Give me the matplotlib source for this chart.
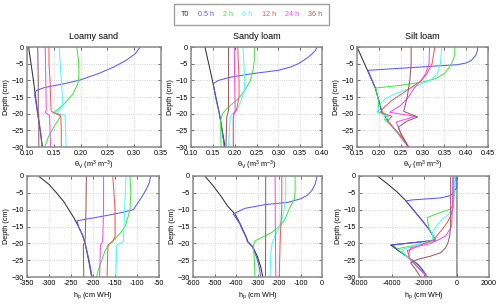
import matplotlib
matplotlib.use('Agg')
import matplotlib.pyplot as plt
import numpy as np
from matplotlib.lines import Line2D

plt.rcParams['font.family'] = ['Liberation Sans', 'DejaVu Sans']
plt.rcParams['mathtext.fontset'] = 'custom'
plt.rcParams['mathtext.rm'] = 'Liberation Sans'
plt.rcParams['mathtext.it'] = 'Liberation Sans'

times = ['T0', '0.5 h', '2 h', '6 h', '12 h', '24 h', '36 h']
# T0, 0.5h, 2h, 6h, 12h, 24h, 36h
color = ['#333333', '#5a5aff', '#3cee3c', '#44ffff', '#ff5555', '#ff44ff', '#a05a5a']

# ---- water content (theta) profiles: (depth, value) per time ----
ls_theta = {
    'T0':    ([0, -10, -20, -30], [0.103, 0.112, 0.120, 0.129]),
    '0.5 h': ([0, -2, -4, -6, -8, -10, -11, -11.6, -12.2, -13, -14, -20, -25, -30],
              [0.311, 0.302, 0.285, 0.262, 0.233, 0.197, 0.170, 0.150, 0.132, 0.118, 0.114, 0.120, 0.125, 0.128]),
    '2 h':   ([0, -4, -8, -11, -14, -17, -19, -19.6, -20.5, -21, -24, -27, -30],
              [0.193, 0.196, 0.197, 0.195, 0.186, 0.170, 0.155, 0.149, 0.160, 0.162, 0.150, 0.140, 0.133]),
    '6 h':   ([0, -5, -10, -15, -18, -19, -19.6, -20.5, -25, -30],
              [0.160, 0.162, 0.164, 0.166, 0.166, 0.160, 0.150, 0.171, 0.172, 0.173]),
    '12 h':  ([0, -5, -10, -15, -19, -19.6, -20.5, -25, -30],
              [0.141, 0.141, 0.143, 0.144, 0.145, 0.148, 0.163, 0.164, 0.164]),
    '24 h':  ([0, -10, -19, -19.6, -20.5, -25, -30],
              [0.134, 0.135, 0.136, 0.134, 0.142, 0.143, 0.144]),
    '36 h':  ([0, -10, -19.6, -20.5, -30], [0.120, 0.121, 0.121, 0.122, 0.122]),
}

sl_theta = {
    'T0':    ([0, -10, -20, -30], [0.132, 0.149, 0.165, 0.178]),
    '0.5 h': ([0, -1, -2, -3, -4, -5, -6, -7, -8, -9, -10, -11, -15, -20, -25, -30],
              [0.389, 0.385, 0.378, 0.369, 0.358, 0.346, 0.328, 0.300, 0.240, 0.193, 0.163, 0.151, 0.156, 0.165, 0.171, 0.176]),
    '2 h':   ([0, -4, -7, -10, -12, -14, -16, -18, -20, -22, -26, -30],
              [0.245, 0.245, 0.242, 0.236, 0.228, 0.218, 0.204, 0.186, 0.172, 0.168, 0.168, 0.169]),
    '6 h':   ([0, -5, -10, -13, -16, -19, -20, -21, -25, -30],
              [0.219, 0.221, 0.223, 0.222, 0.215, 0.205, 0.195, 0.190, 0.188, 0.186]),
    '12 h':  ([0, -10, -15, -19, -20, -21, -30], [0.207, 0.210, 0.210, 0.204, 0.198, 0.197, 0.197]),
    '24 h':  ([0, -10, -19, -20, -21, -30], [0.199, 0.200, 0.201, 0.199, 0.197, 0.197]),
    '36 h':  ([0, -10, -19, -20, -21, -30], [0.186, 0.186, 0.186, 0.184, 0.182, 0.180]),
}

si_theta = {
    'T0':    ([0, -7, -12.3, -19.5, -20.5, -22.5, -26, -30],
              [0.150, 0.174, 0.192, 0.207, 0.213, 0.222, 0.245, 0.268]),
    '0.5 h': ([0, -1, -2.5, -4, -4.8, -5.3, -7, -12.3, -19.5, -20.5, -22.5, -26, -30],
              [0.426, 0.426, 0.422, 0.412, 0.400, 0.380, 0.175, 0.192, 0.207, 0.214, 0.222, 0.245, 0.268]),
    '2 h':   ([0, -2, -4, -6, -8, -9.5, -10.5, -11.5, -12.3, -16, -19.5, -20.8, -21.8, -22.5, -26, -30],
              [0.374, 0.374, 0.370, 0.362, 0.350, 0.330, 0.300, 0.250, 0.193, 0.199, 0.199, 0.222, 0.212, 0.222, 0.245, 0.268]),
    '6 h':   ([0, -5, -8, -10, -12, -14, -15.5, -17, -19.5, -20.8, -22, -26, -30],
              [0.344, 0.341, 0.334, 0.318, 0.280, 0.238, 0.215, 0.204, 0.196, 0.218, 0.215, 0.245, 0.268]),
    '12 h':  ([0, -5, -8, -10, -12, -14, -16, -18, -19.5, -20.8, -22.2, -26, -30],
              [0.328, 0.322, 0.310, 0.298, 0.276, 0.253, 0.230, 0.213, 0.204, 0.230, 0.220, 0.245, 0.268]),
    '24 h':  ([0, -5, -8, -10, -12.5, -15, -17.5, -19, -19.6, -20.8, -22.5, -25, -30],
              [0.316, 0.315, 0.307, 0.297, 0.280, 0.268, 0.250, 0.232, 0.225, 0.284, 0.240, 0.247, 0.268]),
    '36 h':  ([0, -5, -10, -15, -19.3, -21, -22.2, -24, -26, -30],
              [0.274, 0.274, 0.271, 0.265, 0.257, 0.289, 0.265, 0.245, 0.250, 0.268]),
}

# ---- pressure head profiles ----
ls_h = {
    'T0':    ([0, -2.5, -5, -7.5, -10, -12.5, -15, -17.5, -20, -25, -30],
              [-324, -300, -283, -267, -255, -243, -233, -224, -218, -210, -203]),
    '0.5 h': ([0, -2, -4, -6, -8, -10, -11, -12, -12.8, -13.3, -15, -17.5, -20, -25, -30],
              [-69, -72, -79, -88, -98, -108, -140, -180, -215, -236, -233, -224, -218, -209, -202]),
    '2 h':   ([0, -5, -10, -12, -15, -17, -19, -20, -22, -25, -28, -30],
              [-116, -114, -116, -120, -127, -138, -153, -161, -172, -180, -188, -192]),
    '6 h':   ([0, -10, -19.5, -20.5, -30], [-125, -128, -131, -146, -148]),
    '12 h':  ([0, -10, -18, -19.5, -20.5, -30], [-155, -150, -150, -155, -166, -168]),
    '24 h':  ([0, -10, -19.5, -20.5, -30], [-176, -176, -178, -183, -185]),
    '36 h':  ([0, -10, -19.5, -20.5, -30], [-215, -216, -218, -222, -221]),
}

sl_h = {
    'T0':    ([0, -3, -6, -9, -11.3, -14, -16, -18.3, -19.5, -21, -24, -27, -30],
              [-545, -505, -470, -438, -405, -382, -368, -351, -345, -322, -300, -285, -275]),
    '0.5 h': ([0, -2.3, -4.3, -5.8, -6.8, -7.8, -8.5, -9.6, -11.3, -14, -16, -18.3, -19.5, -21, -24, -27, -30],
              [-23, -31, -47, -70, -101, -156, -265, -358, -413, -384, -370, -353, -347, -325, -305, -292, -285]),
    '2 h':   ([0, -4.3, -6.8, -8.3, -10.3, -12.8, -14.8, -16.8, -18.3, -19.3, -20.8, -24.3, -30],
              [-125, -125, -128, -141, -156, -172, -195, -234, -281, -312, -320, -315, -312]),
    '6 h':   ([0, -6, -9.3, -13.3, -15.8, -17.8, -19.8, -22.3, -30],
              [-169, -169, -175, -187, -203, -218, -231, -237, -242]),
    '12 h':  ([0, -9, -15.3, -20.3, -30], [-187, -187, -192, -195, -199]),
    '24 h':  ([0, -15, -30], [-218, -217, -215]),
    '36 h':  ([0, -15, -30], [-262, -262, -263]),
}

si_h = {
    'T0':    ([0, -2.3, -4.8, -7.3, -10.3, -13.3, -15.8, -18.3, -19.1, -20.5, -22.3, -24.3, -26.3, -27.8, -30],
              [-4872, -4256, -3641, -3128, -2615, -2103, -1692, -1385, -1302, -4051, -3538, -2923, -2369, -2103, -1795]),
    '0.5 h': ([0, -3.3, -4.3, -5.8, -6.5, -7.1, -7.4, -10.3, -13.3, -15.8, -18.3, -19.1, -20.5, -22.3, -24.3, -26.3, -27.8, -30],
              [30, 30, -113, -359, -974, -2718, -3100, -2615, -2103, -1692, -1385, -1302, -3950, -3500, -2923, -2369, -2103, -1795]),
    '2 h':   ([0, -4.3, -8.3, -9.8, -10.8, -12.3, -14, -16, -18.3, -19.3, -21.6, -22.8, -24.3, -30],
              [-51, -113, -195, -359, -974, -1795, -1760, -1650, -1385, -1250, -3641, -3350, -2923, -1795]),
    '6 h':   ([0, -9.3, -11.3, -12.8, -14.8, -16.8, -18.3, -19, -21.8, -23, -24.3, -30],
              [-113, -195, -462, -872, -1221, -1487, -1487, -1425, -3333, -3200, -2923, -1795]),
    '12 h':  ([0, -9.3, -11.3, -13.8, -15.8, -17.8, -18.8, -22.2, -23.3, -24.5, -30],
              [-195, -215, -318, -564, -872, -1221, -1344, -3026, -2950, -2900, -1795]),
    '24 h':  ([0, -10, -15, -17.8, -19.1, -20.1, -21.3, -22.8, -24.5, -30],
              [-226, -250, -300, -667, -1179, -1590, -2820, -2923, -2900, -1795]),
    '36 h':  ([0, -15, -17.8, -19.8, -21.3, -22.8, -23.8, -24.8, -25.8, -27.8, -30],
              [-359, -359, -420, -523, -667, -974, -1590, -2410, -2820, -2513, -2205]),
}

titles = ['Loamy sand', 'Sandy loam', 'Silt loam']
theta_ticks = [np.arange(0.10, 0.351, 0.05), np.arange(0.10, 0.401, 0.05), np.arange(0.15, 0.451, 0.05)]
h_ticks = [np.arange(-350, -49, 50), np.arange(-600, 1, 100), np.arange(-6000, 2001, 2000)]
depth_ticks = [0, -5, -10, -15, -20, -25, -30]


def style_axes(ax, xticks, fmt):
    ax.set_xlim(xticks[0], xticks[-1])
    ax.set_ylim(-30, 0)
    ax.set_xticks(xticks)
    ax.set_xticklabels([fmt % t for t in xticks])
    ax.set_yticks(depth_ticks)
    ax.tick_params(direction='in', top=True, right=True, labelsize=5.2,
                   length=2.5, width=0.6, color='#555555', pad=2.5)
    ax.grid(True, color='#c8c8c8', linestyle=':', linewidth=0.6)
    for s in ax.spines.values():
        s.set_color('#8a8a8a')
        s.set_linewidth(1.1)
    ax.set_ylabel('Depth (cm)', fontsize=5.2, labelpad=1)


def draw_profiles(ax, data):
    for t, c in zip(times, color):
        z, v = data[t]
        ax.plot(v, z, color=c, lw=0.75)


fig = plt.figure(figsize=(5.0, 3.07), dpi=100)

top_left = [27, 191, 357]
top_w = [134, 131, 131]
bot_left = [27, 193, 359]
bot_w = [132, 129, 130]

theta_data = [ls_theta, sl_theta, si_theta]
h_data = [ls_h, sl_h, si_h]

for i in range(3):
    ax = fig.add_axes([top_left[i] / 500, 1 - 147 / 307, top_w[i] / 500, 100 / 307])
    draw_profiles(ax, theta_data[i])
    style_axes(ax, theta_ticks[i], '%.2f')
    ax.set_title(titles[i], fontsize=6.5, pad=6)
    ax.set_xlabel(r'θ$_V$ (m$^3$ m$^{-3}$)', fontsize=5.2, labelpad=1)

    ax2 = fig.add_axes([bot_left[i] / 500, 1 - 277 / 307, bot_w[i] / 500, 101 / 307])
    if i == 2:
        ax2.axvline(0, color='#9a9a9a', lw=1.4, zorder=1)
    draw_profiles(ax2, h_data[i])
    style_axes(ax2, h_ticks[i], '%d')
    ax2.set_xlabel(r'h$_p$ (cm WH)', fontsize=5.2, labelpad=2)

handles = [Line2D([], [], color=c, lw=0) for c in color]
leg = fig.legend(handles, times, loc='center', bbox_to_anchor=(251.5 / 500, 1 - 14.5 / 307),
                 ncol=7, handlelength=0, handletextpad=0, columnspacing=1.25,
                 labelcolor=color, fontsize=5.2, frameon=True, fancybox=False,
                 borderpad=0.9, borderaxespad=0)
leg.get_frame().set_edgecolor('#8a8a8a')
leg.get_frame().set_linewidth(1.0)

fig.savefig('out.png', dpi=100)
